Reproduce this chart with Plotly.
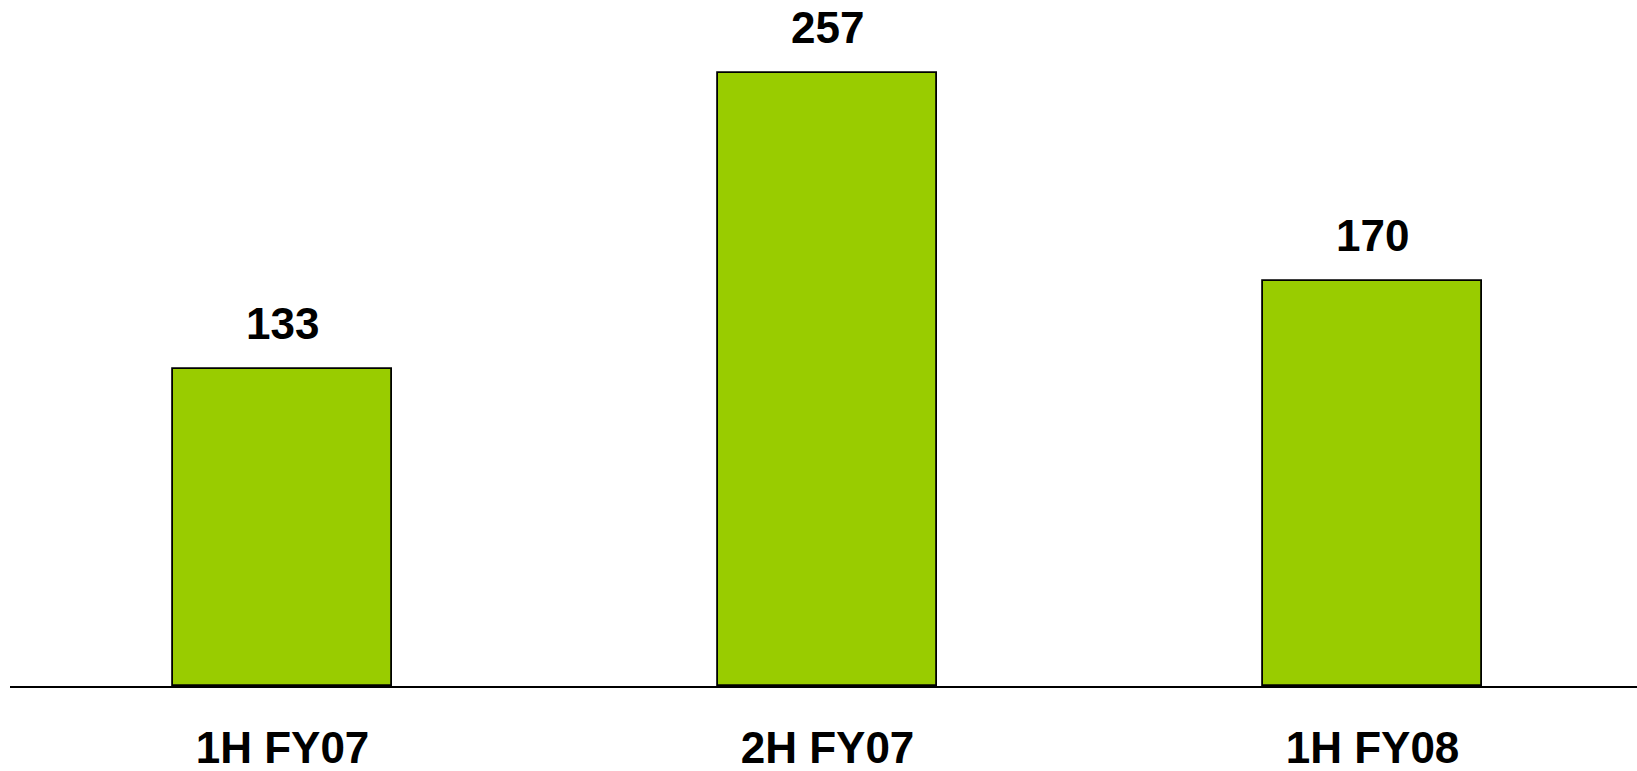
import plotly.graph_objects as go

periods = ["1H FY07", "2H FY07", "1H FY08"]
values = [133, 257, 170]

bar_color = "#99CC00"
font_family = "Liberation Sans, Arial, sans-serif"

fig = go.Figure()
fig.add_trace(go.Bar(
    x=periods,
    y=values,
    width=0.402,
    marker=dict(color=bar_color, line=dict(color="#000000", width=1.8)),
    hoverinfo="skip",
))

# value labels above each bar
for p, v in zip(periods, values):
    fig.add_annotation(
        x=p, y=v, text=str(v), showarrow=False,
        yanchor="bottom", yshift=19,
        font=dict(family=font_family, size=44, color="#000000", weight="bold"),
    )

fig.update_layout(
    width=1637, height=771,
    margin=dict(l=10, r=0, t=0, b=85),
    plot_bgcolor="white", paper_bgcolor="white",
    showlegend=False,
    bargap=0,
    xaxis=dict(
        range=[-0.5, -0.5 + 1627 / 545],
        automargin=False,
        showline=True, linecolor="#000000", linewidth=2,
        showgrid=False, zeroline=False, ticks="",
        tickfont=dict(family=font_family, size=44, color="#000000", weight="bold"),
        ticklabelstandoff=22,
    ),
    yaxis=dict(
        range=[0, 686 / 2.384],
        automargin=False,
        visible=False,
    ),
)

fig.write_html("out.html")
